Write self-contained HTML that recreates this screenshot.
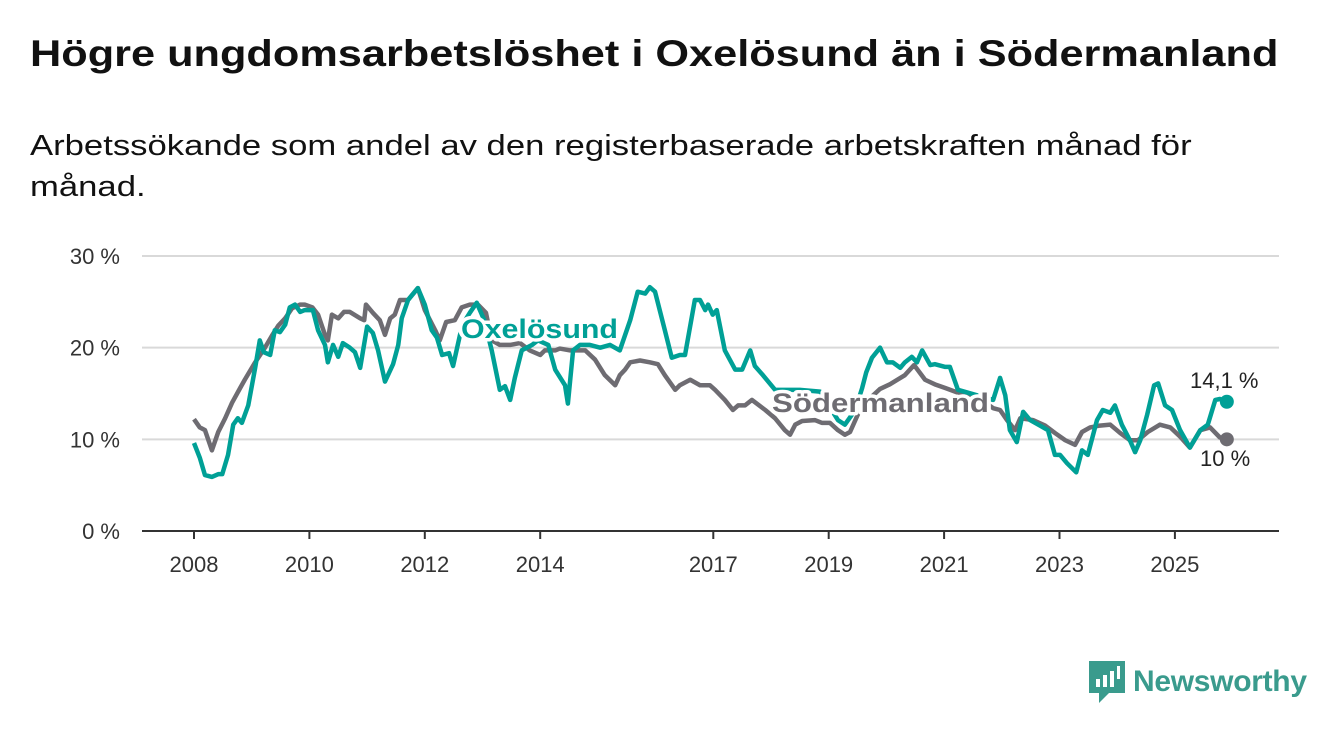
<!DOCTYPE html>
<html><head><meta charset="utf-8"><style>
body{margin:0;background:#fff;width:1340px;height:734px;overflow:hidden;font-family:"Liberation Sans",sans-serif;color:#111;}
h1{position:absolute;left:30px;top:33px;margin:0;font-size:37px;font-weight:bold;white-space:nowrap;transform:scaleX(1.17);transform-origin:left top}
p{position:absolute;left:30px;top:126px;margin:0;font-size:29px;line-height:41px;white-space:nowrap;transform:scaleX(1.195);transform-origin:left top}
svg{position:absolute;left:0;top:0}
</style></head><body>
<h1>Högre ungdomsarbetslöshet i Oxelösund än i Södermanland</h1>
<p>Arbetssökande som andel av den registerbaserade arbetskraften månad för<br>månad.</p>
<svg id="chart" width="1340" height="734"></svg>
<div style="position:absolute;left:1089px;top:661px;display:flex;align-items:center;">
<svg width="36" height="42" style="position:static"><path d="M0 0H36V32H20L10 42V32H0Z" fill="#3a9b8d"/><rect x="7" y="18" width="4" height="8" fill="#fff"/><rect x="14" y="14" width="4" height="12" fill="#fff"/><rect x="21" y="10" width="4" height="16" fill="#fff"/><rect x="28" y="5" width="3" height="13" fill="#fff"/></svg>
<span style="font-size:30px;color:#3a9b8d;margin-left:8px;font-weight:bold;letter-spacing:-0.3px">Newsworthy</span></div>
<script>
const yTicks=[0,10,20,30];
const xTickYears=[2008,2010,2012,2014,2017,2019,2021,2023,2025];
const oxDates=[0,.10,.19,.31,.42,.49,.59,.68,.76,.83,.94,1.06,1.14,1.21,1.32,1.40,1.49,1.58,1.66,1.75,1.84,1.92,2.06,2.15,2.27,2.32,2.41,2.50,2.58,2.70,2.79,2.88,3.00,3.10,3.19,3.31,3.45,3.54,3.60,3.71,3.88,4.00,4.12,4.21,4.30,4.42,4.49,4.61,4.70,4.78,4.90,5.03,5.16,5.30,5.39,5.48,5.56,5.68,5.86,5.96,6.14,6.26,6.43,6.48,6.57,6.69,6.86,7.04,7.21,7.38,7.56,7.69,7.82,7.90,7.99,8.16,8.28,8.42,8.51,8.68,8.77,8.86,8.91,8.99,9.06,9.20,9.38,9.50,9.64,9.72,9.86,10.07,10.50,10.85,11.16,11.28,11.46,11.58,11.65,11.75,11.89,12.01,12.11,12.24,12.32,12.44,12.53,12.62,12.76,12.84,13.02,13.10,13.24,13.85,13.97,14.06,14.14,14.26,14.37,14.49,14.66,14.80,14.92,15.01,15.13,15.29,15.39,15.49,15.65,15.75,15.88,15.96,16.08,16.22,16.31,16.40,16.52,16.64,16.71,16.83,16.95,17.09,17.26,17.44,17.57,17.70,17.78,17.90];
const oxValues=[9.6,8.0,6.1,5.9,6.2,6.2,8.3,11.6,12.3,11.8,13.7,17.8,20.8,19.5,19.2,21.9,21.7,22.5,24.4,24.7,23.9,24.1,24.1,21.9,20.3,18.4,20.3,19.0,20.5,20.0,19.5,17.8,22.3,21.6,19.7,16.3,18.2,20.3,23.2,25.2,26.5,24.7,21.9,21.1,19.2,19.4,18.0,21.4,23.0,23.8,24.9,23.0,19.7,15.4,15.8,14.3,16.7,19.7,20.3,20.8,20.3,17.6,15.9,13.9,19.7,20.3,20.3,20.0,20.3,19.7,23.0,26.1,25.9,26.6,26.1,21.9,18.9,19.2,19.2,25.2,25.2,24.1,24.7,23.6,24.1,19.7,17.6,17.6,19.7,18.0,17.0,15.4,15.4,15.2,12.1,11.6,13.2,15.6,17.3,18.9,20.0,18.4,18.4,17.8,18.4,19.0,18.4,19.7,18.1,18.2,17.9,17.9,15.4,14.3,16.7,14.8,11.0,9.7,13.0,12.1,11.5,11.0,8.3,8.3,7.4,6.4,8.8,8.3,12.1,13.2,12.9,13.7,11.6,9.9,8.6,9.9,12.7,15.9,16.1,13.7,13.2,11.0,9.1,11.0,11.6,14.3,14.4,14.1];
const sdDates=[0,.10,.19,.31,.42,.54,.66,.80,.88,1.06,1.23,1.35,1.46,1.58,1.70,1.84,1.92,2.05,2.15,2.27,2.32,2.39,2.50,2.60,2.70,2.88,2.95,2.98,3.10,3.22,3.31,3.40,3.48,3.57,3.71,3.88,4.00,4.18,4.26,4.37,4.52,4.64,4.78,4.92,5.06,5.16,5.30,5.48,5.65,5.82,6.00,6.08,6.26,6.34,6.52,6.78,6.95,7.12,7.30,7.38,7.47,7.56,7.73,7.90,8.04,8.16,8.34,8.42,8.60,8.77,8.94,9.03,9.20,9.34,9.43,9.55,9.67,9.90,10.07,10.24,10.33,10.42,10.54,10.76,10.88,11.02,11.16,11.28,11.37,11.54,11.72,11.89,12.06,12.32,12.48,12.67,12.84,13.02,13.19,13.45,13.71,13.85,13.97,14.09,14.23,14.32,14.54,14.75,14.92,15.10,15.27,15.39,15.53,15.70,15.88,16.05,16.22,16.36,16.53,16.74,16.92,17.09,17.26,17.44,17.61,17.78,17.90];
const sdValues=[12.2,11.3,11.0,8.8,10.8,12.3,14.0,15.6,16.5,18.4,20.0,21.3,22.4,23.2,24.3,24.7,24.7,24.4,23.6,21.4,20.8,23.6,23.2,23.9,23.9,23.2,23.0,24.7,23.8,23.0,21.4,23.2,23.6,25.2,25.2,26.5,24.1,21.9,20.8,22.8,23.0,24.4,24.7,24.7,23.8,20.8,20.3,20.3,20.5,19.7,19.2,19.7,19.7,19.9,19.7,19.7,18.7,17.0,15.9,17.0,17.6,18.4,18.6,18.4,18.2,17.0,15.4,15.9,16.5,15.9,15.9,15.4,14.3,13.2,13.7,13.7,14.3,13.2,12.3,11.0,10.5,11.6,12.0,12.1,11.8,11.8,11.0,10.5,10.8,13.2,14.5,15.5,16.0,17.0,18.1,16.5,16.0,15.6,15.2,14.6,14.0,13.4,13.2,12.1,11.0,12.3,12.1,11.5,10.7,9.9,9.4,10.8,11.3,11.5,11.6,10.7,9.9,9.9,10.8,11.6,11.3,10.3,9.1,11.0,11.3,10.2,10.0];
const NS="http://www.w3.org/2000/svg";
const svg=document.getElementById('chart');
const x0=194,pxYear=57.7,y0=531,pxPct=9.167;
const X=t=>x0+t*pxYear, Y=v=>y0-v*pxPct;
function mk(tag,attrs,parent){const e=document.createElementNS(NS,tag);for(const k in attrs)e.setAttribute(k,attrs[k]);(parent||svg).appendChild(e);return e;}
yTicks.forEach(v=>{
  const l=mk('line',{x1:142,x2:1279,y1:Y(v),y2:Y(v),stroke:v===0?'#333':'#d9d9d9','stroke-width':2});
  
  
  const t=mk('text',{x:120,y:Y(v)+8,'text-anchor':'end','font-size':22,fill:'#333'});
  t.textContent=v+' %';
  
  
});
xTickYears.forEach(yr=>{
  const tk=mk('line',{x1:X(yr-2008),x2:X(yr-2008),y1:531,y2:539,stroke:'#333','stroke-width':2});
  
  
  const t=mk('text',{x:X(yr-2008),y:572,'text-anchor':'middle','font-size':22,fill:'#333'});
  t.textContent=yr;
  
  
});
function line(d,v,color,name){
  const p=mk('polyline',{points:d.map((t,i)=>X(t)+','+Y(v[i])).join(' '),fill:'none',stroke:color,'stroke-width':4.5,'stroke-linejoin':'round'});
  
  
  const n=d.length-1;
  const c=mk('circle',{cx:X(d[n]),cy:Y(v[n]),r:7,fill:color});
  
  
}
line(sdDates,sdValues,'#6e6c72','sodermanland-line');
line(oxDates,oxValues,'#00a096','oxelosund-line');
function lab(txt,x,y,color,name,size,bold,w){
  const t=mk('text',{x:x,y:y,'font-size':size,'font-weight':bold?'bold':'normal',fill:color,stroke:'#fff','stroke-width':bold?7:5,'paint-order':'stroke','stroke-linejoin':'round'});
  if(w){t.setAttribute('textLength',w);t.setAttribute('lengthAdjust','spacingAndGlyphs');}
  t.textContent=txt;
  
  
}
lab('Oxelösund',461,338,'#00a096','oxelosund-label',27,true,157);
lab('Södermanland',772,412,'#6e6c72','sodermanland-label',27,true,217);
lab('14,1 %',1190,388,'#222','oxelosund-last-value',22,false);
lab('10 %',1200,466,'#222','sodermanland-last-value',22,false);
</script>
</body></html>
